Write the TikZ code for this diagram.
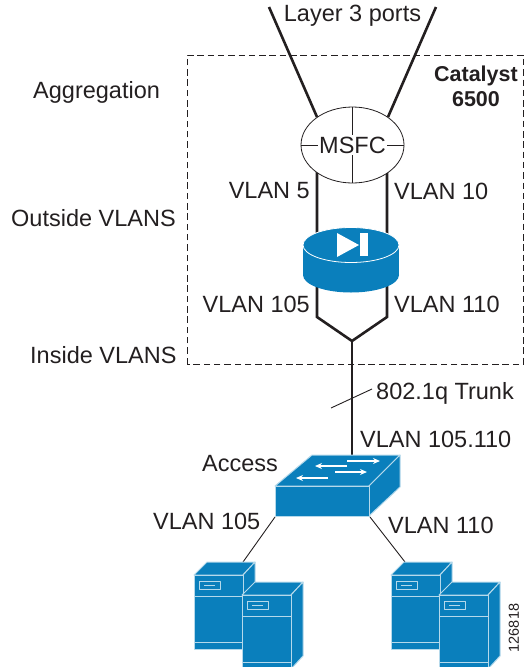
\documentclass[tikz,border=0pt]{standalone}
\usepackage{fontspec}
\setmainfont{Liberation Sans}
\usetikzlibrary{shapes.geometric,arrows.meta}
\definecolor{ciscoblue}{HTML}{0A7FBC}
\definecolor{inkgray}{HTML}{231F20}
\tikzstyle{lbl} = [inner sep=0pt, text=inkgray, font=\fontsize{23.5}{26}\selectfont]
\tikzstyle{link} = [line width=2.6pt, inkgray]
\tikzstyle{thinlink} = [line width=.9pt, inkgray]
\tikzstyle{face} = [fill=ciscoblue, draw=white!70!ciscoblue, line width=1pt, line join=round]
\tikzstyle{flow} = [white, line width=1.2pt, -{Stealth[length=7pt,width=6pt]}]
\tikzset{
  server/.pic={
    \fill[face] (0,0) -- (13,-13) -- (61,-13) -- (49,0) -- cycle;
    \fill[face] (49,0) -- (61,-13) -- (61,61) -- (49,74) -- cycle;
    \fill[face] (0,0) rectangle (49,74);
    \draw[face] (0,21) -- (49,21);
    \draw[face] (0,67) -- (49,67);
    \draw[face] (5,6) rectangle (26,14);
    \draw[face] (10,10) -- (21,10);
  }
}

\begin{document}
\begin{tikzpicture}[x=1pt,y=-1pt]
  \useasboundingbox (0,0) rectangle (523,667);

  \draw[thinlink, line width=.8pt, dash pattern=on 6.5pt off 3.8pt] (187,364) -- (187,55) -- (523,55) -- (523,364) -- cycle;

  \coordinate (portl) at (269,7);
  \coordinate (portr) at (436,7);
  \coordinate (fwjoin) at (352,341);
  \coordinate (bendl) at (317,317);
  \coordinate (bendr) at (387,317);
  \coordinate (topl) at (317,170);
  \coordinate (topr) at (387,170);
  \coordinate (srvl) at (243,562);
  \coordinate (srvr) at (405,562);
  \coordinate (hashl) at (331,408);
  \coordinate (hashr) at (372,389);

  % links
  \draw[link] (portl) -- (317,117);
  \draw[link] (portr) -- (388,117);
  \draw[link] (topl) -- (bendl) -- (fwjoin);
  \draw[link] (topr) -- (bendr) -- (fwjoin);
  \draw[link] (fwjoin) -- (352,456);
  \draw[thinlink] (hashl) -- (hashr);

  % msfc
  \node[ellipse, draw=inkgray, fill=white, line width=.8pt, minimum width=103pt, minimum height=76pt, inner sep=0pt] (msfc) at (352.5,145) {};
  \draw[inkgray, line width=.8pt] (msfc.north) -- (msfc.south);
  \draw[inkgray, line width=.8pt] (msfc.west) -- (msfc.east);
  \node[lbl, fill=white, inner xsep=1pt, inner ysep=2pt] (msfctxt) at (msfc.center) {MSFC};

  % firewall
  \node[ellipse, fill=ciscoblue, minimum width=96pt, minimum height=35pt, inner sep=0pt] (fwbot) at (351,275) {};
  \fill[ciscoblue] (303,245) rectangle (399,275);
  \node[ellipse, fill=ciscoblue, draw=white, line width=.8pt, minimum width=96pt, minimum height=35pt, inner sep=0pt] (fw) at (351,245) {};
  \fill[white] (337,233) -- (359,245) -- (337,257) -- cycle;
  \fill[white] (360,233) rectangle (368,256);

  % switch
  \fill[face] (275,486) -- (312,455) -- (400,455) -- (369,486) -- cycle;
  \fill[face] (369,486) -- (400,455) -- (400,487) -- (369,516) -- cycle;
  \node[face, draw, minimum width=94pt, minimum height=30pt, inner sep=0pt, anchor=north west] (acc) at (275,486) {};
  \draw[flow] (347,461) -- (380,461);
  \draw[flow] (347,466) -- (315,466);
  \draw[flow] (335,472) -- (367,472);
  \draw[flow] (328,478) -- (296,478);

  \draw[thinlink] (acc.south west) -- (srvl);
  \draw[thinlink] (acc.south east) -- (srvr);

  % servers
  \pic at (194,575) {server};
  \pic at (242,595) {server};
  \pic at (391,575) {server};
  \pic at (439,595) {server};

  % labels
  \node[lbl] (ports) at (352.5,16) {Layer 3 ports};
  \node[lbl, anchor=west] (agg) at (33,92) {Aggregation};
  \node[lbl, anchor=west] (outv) at (11,218) {Outside VLANS};
  \node[lbl, anchor=west] (inv) at (30,355) {Inside VLANS};
  \node[lbl, anchor=east, font=\fontsize{21.5}{25}\selectfont\bfseries, align=center] (cat) at (518,86) {Catalyst\\6500};
  \node[lbl, anchor=east] (v5) at (310,191) {VLAN 5};
  \node[lbl, anchor=west] (v10) at (394,191) {VLAN 10};
  \node[lbl, anchor=east] (v105) at (310,304) {VLAN 105};
  \node[lbl, anchor=west] (v110) at (394,304) {VLAN 110};
  \node[lbl, anchor=west] (trunk) at (376,393) {802.1q Trunk};
  \node[lbl, anchor=west] (v105110) at (360,439) {VLAN 105.110};
  \node[lbl, anchor=west] (accs) at (202,464) {Access};
  \node[lbl, anchor=west] (sv105) at (153,521) {VLAN 105};
  \node[lbl, anchor=west] (sv110) at (388,525) {VLAN 110};
  \node[lbl, rotate=90, font=\fontsize{14.5}{16}\selectfont] (figno) at (514,628) {126818};
\end{tikzpicture}
\end{document}
